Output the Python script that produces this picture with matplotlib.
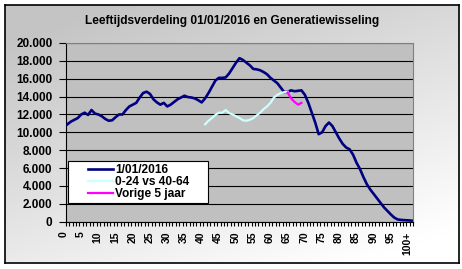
import numpy as np
import matplotlib
matplotlib.use("Agg")
import matplotlib.pyplot as plt
import matplotlib.transforms as mtransforms
from matplotlib.legend_handler import HandlerLine2D
from matplotlib.ticker import FuncFormatter

plt.rcParams['font.family'] = ['Liberation Sans', 'DejaVu Sans']
plt.rcParams['font.weight'] = 'bold'

# leeftijden 0 .. 100+
ages = list(range(101))
age_labels = [str(a) for a in range(0, 100, 5)] + ["100+"]

# bevolking per leeftijd op 1/01/2016
pop_2016 = [10900, 11200, 11400, 11600, 12000, 12200, 11950, 12500, 12100, 12000,
            11800, 11500, 11300, 11350, 11700, 12000, 12000, 12500, 12900, 13100,
            13300, 13900, 14400, 14550, 14300, 13700, 13350, 13100, 13300, 12900,
            13100, 13400, 13700, 13900, 14100, 13950, 13900, 13800, 13600, 13350,
            13800, 14400, 15100, 15800, 16100, 16100, 16150, 16600, 17200, 17800,
            18300, 18100, 17800, 17500, 17100, 17050, 16950, 16750, 16500, 16100,
            15800, 15500, 15000, 14500, 14550, 14700, 14600, 14650, 14700, 14200,
            13300, 12200, 11100, 9800, 10000, 10700, 11100, 10700, 10000, 9300,
            8700, 8300, 8100, 7500, 6600, 5900, 5000, 4200, 3600, 3100,
            2600, 2100, 1600, 1200, 800, 450, 250, 200, 170, 150, 120]

# generatiewissel: 0-24 tegenover 40-64
gen_ages = list(range(40, 65))
gen_values = [10900, 11300, 11600, 11950, 12200, 12200, 12500, 12150, 12000, 11800,
              11600, 11350, 11300, 11400, 11600, 11900, 12200, 12600, 12900, 13300,
              13900, 14200, 14400, 14500, 14550]

# vorige 5 jaar
prev_ages = list(range(64, 69))
prev_values = [14450, 13800, 13400, 13100, 13300]


class RightLine(HandlerLine2D):
    # legend line only on the right part of the handle box, like Excel
    def get_xdata(self, legend, xdescent, ydescent, width, height, fontsize):
        x = np.array([-xdescent + width * 0.41, -xdescent + width])
        return x, x


fig = plt.figure(figsize=(4.62, 2.69), dpi=100)
fig.patch.set_facecolor('white')

# chart area with grey -> white gradient and black border
bg = fig.add_axes([5 / 462, 6 / 269, 454 / 462, 258 / 269], zorder=0)
u = np.linspace(0, 1, 200)
v = np.linspace(0, 1, 120)
U, V = np.meshgrid(u, v)
t = np.clip(0.75 * V + 0.45 * U - 0.1, 0, 1)
c0 = 0xc4 / 255
img = c0 + (1 - c0) * t
bg.imshow(np.dstack([img, img, img]), aspect='auto', extent=[0, 1, 0, 1],
          origin='upper', interpolation='bilinear')
bg.set_xticks([])
bg.set_yticks([])
for s in bg.spines.values():
    s.set_color('black')
    s.set_linewidth(1.2)

ax = fig.add_axes([65.7 / 462, 1 - 221.7 / 269, 347.6 / 462, 178.7 / 269], zorder=1)
ax.set_facecolor('#c0c0c0')

ax.plot(ages, pop_2016, color='#000080', lw=1.9, label='1/01/2016', zorder=3)
ax.plot(gen_ages, gen_values, color='#ccffff', lw=1.6, label='0-24 vs 40-64', zorder=3)
ax.plot(prev_ages, prev_values, color='#ff00ff', lw=1.6, label='Vorige 5 jaar', zorder=4)

ax.set_xlim(-0.5, 100.5)
ax.set_ylim(0, 20000)
ax.set_yticks(range(0, 20001, 2000))
ax.yaxis.set_major_formatter(FuncFormatter(lambda y, p: f"{int(y):,}".replace(",", ".")))
ax.grid(axis='y', color='black', lw=0.8)
ax.set_axisbelow(True)

ax.set_xticks(range(0, 101, 5))
ax.set_xticklabels(age_labels, rotation=90, fontsize=7.5, fontweight='bold')
ax.set_xticks(np.arange(-0.5, 101, 1), minor=True)
ax.tick_params(axis='x', which='major', length=0, pad=7)
ax.tick_params(axis='x', which='minor', length=3, width=0.8, direction='out')
ax.tick_params(axis='y', length=5, width=0.8, pad=4.5, labelsize=8.5)
offset = mtransforms.ScaledTranslation(-0.04, 0, fig.dpi_scale_trans)
for lab in ax.get_xticklabels():
    lab.set_transform(lab.get_transform() + offset)

for side in ['top', 'right']:
    ax.spines[side].set_color('#808080')
for side in ['left', 'bottom']:
    ax.spines[side].set_color('black')

fig.text(0.503, 0.922, 'Leeftijdsverdeling 01/01/2016 en Generatiewisseling',
         ha='center', va='center', fontsize=8.6, fontweight='bold')

leg = ax.legend(loc='upper left', bbox_to_anchor=(0.006, 0.099, 0.4025, 0.241),
                mode='expand', fontsize=8.6,
                frameon=True, fancybox=False, framealpha=1, edgecolor='black',
                borderpad=0.25, labelspacing=0.0, handlelength=3.55,
                handletextpad=0.15, borderaxespad=0,
                handler_map={plt.Line2D: RightLine()})
leg.get_frame().set_linewidth(0.8)
for txt in leg.get_texts():
    txt.set_fontweight('bold')

fig.savefig('out.png', dpi=100)
